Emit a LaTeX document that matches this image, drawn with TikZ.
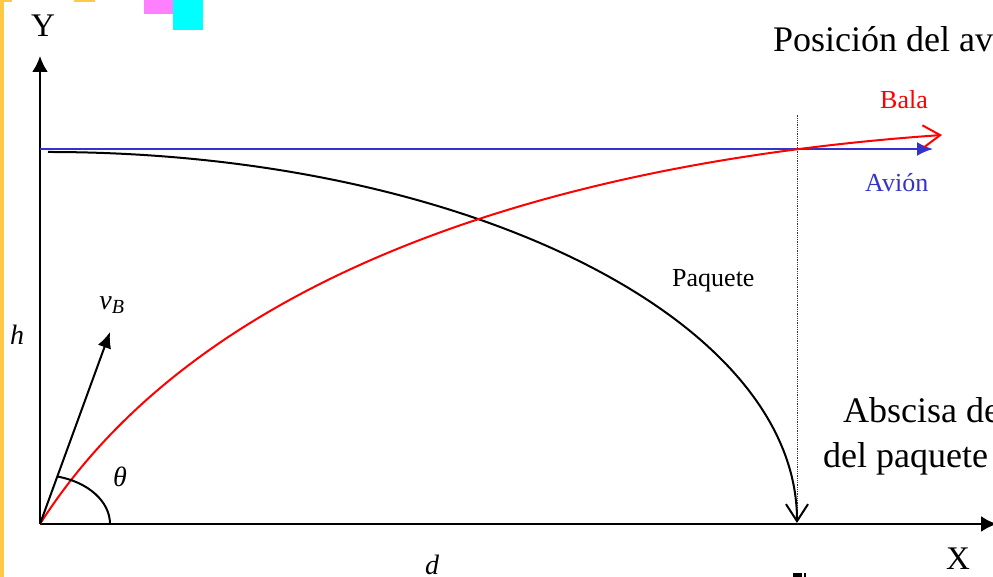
\documentclass[tikz,border=0pt]{standalone}
\usepackage{fontspec}
\setmainfont{Liberation Serif}
\usetikzlibrary{arrows.meta}
\definecolor{avblue}{RGB}{51,51,204}
\definecolor{frameyellow}{RGB}{255,200,70}
\definecolor{sqmag}{RGB}{255,128,255}
\definecolor{sqcyan}{RGB}{0,255,255}
\begin{document}
\begin{tikzpicture}[x=1pt,y=1pt,
  axisline/.style={line width=2.4pt,-{Latex[length=16pt,width=16pt]}},
  bigtxt/.style={font=\fontsize{36}{40}\selectfont,inner sep=0pt},
  axtxt/.style={font=\fontsize{33}{38}\selectfont,inner sep=0pt},
  smalltxt/.style={font=\fontsize{26}{30}\selectfont,inner sep=0pt},
  mathtxt/.style={font=\fontsize{28}{32}\selectfont\itshape,inner sep=0pt},
  barb/.style={-{Straight Barb[length=17pt,width=22pt,line width=2pt]}}
]
\useasboundingbox (0,0) rectangle (993,577);
\clip (0,0) rectangle (993,577);
% decorations
\fill[frameyellow] (0,0) rectangle (4,577);
\fill[frameyellow] (0,575) rectangle (12,577);
\fill[frameyellow] (74,575) rectangle (95,577);
\fill[sqmag] (144,563) rectangle (173,577);
\fill[sqcyan] (173,547) rectangle (203,577);
\fill[black] (793,0) rectangle (802,4);
\fill[black] (804,0) rectangle (806,4);

% coordinates
\coordinate (O) at (40,53);
\coordinate (Ytop) at (40,521);
\coordinate (Xend) at (997,53);
\coordinate (Bstart) at (40,428);
\coordinate (Bend) at (933,428);
\coordinate (Pstart) at (48,425);
\coordinate (Rend) at (942,442);
\coordinate (Dtop) at (797,463);
\coordinate (Dbot) at (797,53);
\coordinate (Vtip) at (110,245);

% axes
\draw[axisline] (O) -- (Ytop);
\draw[axisline] (O) -- (Xend);

% dotted line
\draw[densely dotted,line width=0.8pt,black!80] (Dbot) -- (Dtop);

% plane line
\draw[avblue,line width=2pt,-{Latex[length=16pt,width=14pt]}] (Bstart) -- (Bend);

% package trajectory
\draw[line width=2pt,barb] (Pstart) arc[start angle=90,end angle=0,x radius=749,y radius=371];

% bullet trajectory
\draw[red,line width=2pt,barb] (O) .. controls (196,298) and (542,414) .. (Rend);

% velocity vector
\draw[line width=2pt,-{Latex[length=16pt,width=14pt]}] (O) -- (Vtip);

% angle arc
\draw[line width=2pt] (O) ++(76:70 and 49) arc[start angle=76,end angle=0,x radius=70,y radius=49];

% labels
\node[axtxt,anchor=base] (ylab) at (43,540) {Y};
\node[axtxt,anchor=base] (xlab) at (958,7) {X};
\node[bigtxt,anchor=base west] (posav) at (773,525) {Posición del av};
\node[bigtxt,anchor=base west] (absc) at (843,154) {Abscisa de};
\node[bigtxt,anchor=base west] (delpaq) at (823,109) {del paquete};
\node[smalltxt,anchor=base west,text=red] (bala) at (880,468) {Bala};
\node[smalltxt,anchor=base west,text=avblue] (avion) at (865,385) {Avión};
\node[smalltxt,anchor=base west] (paq) at (672,290) {Paquete};
\node[mathtxt] (hlab) at (17,242) {h};
\node[mathtxt] (dlab) at (432,12) {d};
\node[mathtxt] (thlab) at (120,100) {θ};
\node[mathtxt] (vlab) at (112,272) {v\textsubscript{\fontsize{20}{22}\selectfont B}};
\end{tikzpicture}
\end{document}
